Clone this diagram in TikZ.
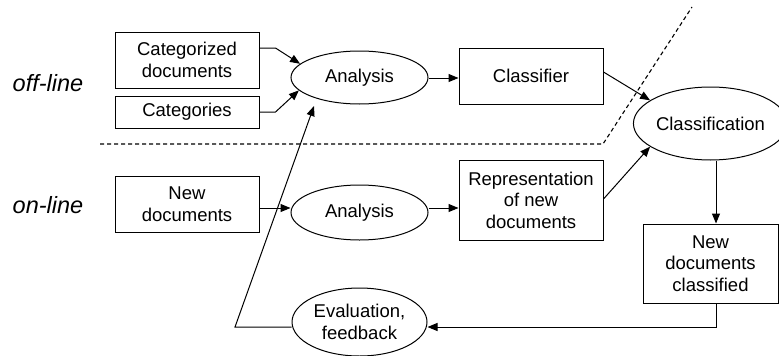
\documentclass[tikz,border=0pt]{standalone}
\usepackage{fontspec}
\setmainfont{Liberation Sans}
\usetikzlibrary{arrows.meta,shapes.geometric,calc}
\tikzset{
  base/.style={draw=black, line width=1pt, inner sep=0pt, align=center,
    font=\fontsize{18.5}{21.5}\selectfont},
  boxnode/.style={base, rectangle, minimum width=144pt},
  ellnode/.style={base, ellipse},
  arr/.style={line width=1pt, -{Triangle[length=10pt,width=8pt]}},
  sidelabel/.style={font=\fontsize{23.5}{26}\selectfont\itshape, inner sep=0pt},
  divider/.style={line width=1.1pt, dash pattern=on 4pt off 3pt}
}
\begin{document}
\begin{tikzpicture}[x=1pt,y=-1pt]
\useasboundingbox (0,0) rectangle (779,356);
% labels
\node[sidelabel] (offl) at (48,83) {off-line};
\node[sidelabel] (onl) at (48,205) {on-line};
% nodes
\node[boxnode, minimum height=56pt] (catdoc) at (187,60) {Categorized\\documents};
\node[boxnode, minimum height=32pt] (cats) at (187,112) {Categories};
\node[ellnode, minimum width=137pt, minimum height=53pt] (an1) at (359.5,77.5) {Analysis};
\node[boxnode, minimum height=56pt] (clf) at (531,76) {Classifier};
\node[ellnode, minimum width=135pt, minimum height=73pt] (cls) at (710.5,123.5) {Classification};
\node[boxnode, minimum height=56pt] (newdoc) at (187,204) {New\\documents};
\node[ellnode, minimum width=137pt, minimum height=55pt] (an2) at (359.5,212.5) {Analysis};
\node[boxnode, minimum height=80pt] (rep) at (531,200) {Representation\\of new\\documents};
\node[boxnode, minimum width=135pt, minimum height=79pt] (ndc) at (710.5,263.5) {New\\documents\\classified};
\node[ellnode, minimum width=135pt, minimum height=68pt] (eval) at (359.5,322) {Evaluation,\\feedback};
% divider
\coordinate (dA) at (100,144);
\coordinate (dB) at (603,144);
\coordinate (dC) at (692,7);
\draw[divider] (dA) -- (dB) -- (dC);
% connectors
\draw[arr] (catdoc.east |- 0,48) -- ++(16,0) -- (an1.167);
\draw[arr] (cats.east) -- ++(16,0) -- (an1.192);
\draw[arr] (an1.east |- 0,78) -- (clf.west |- 0,78);
\draw[arr] (clf.east |- 0,72) -- (cls.159);
\draw[arr] (newdoc.east |- 0,208) -- (an2.west |- 0,208);
\draw[arr] (an2.east |- 0,208) -- (rep.west |- 0,208);
\draw[arr] (rep.east |- 0,199) -- (cls.201);
\draw[arr] (cls.south -| 716,0) -- (ndc.north -| 716,0);
\draw[arr] (ndc.south -| 716,0) |- (eval.east |- 0,327);
\coordinate (fbcorner) at (235,327);
\coordinate (fbtip) at (314,106);
\draw[arr] (eval.west |- 0,327) -- (fbcorner) -- (fbtip);
\end{tikzpicture}
\end{document}
